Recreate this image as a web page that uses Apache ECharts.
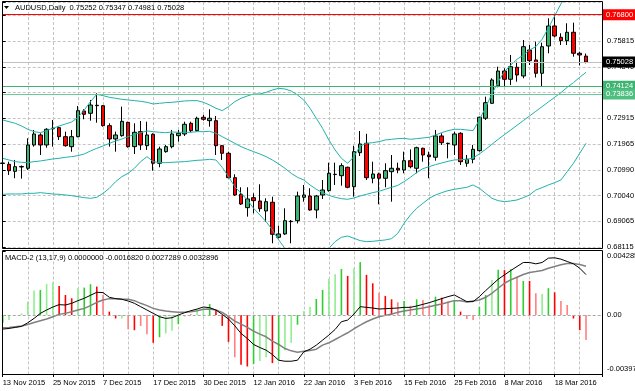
<!DOCTYPE html>
<html><head><meta charset="utf-8">
<script src="https://cdn.jsdelivr.net/npm/echarts@6/dist/echarts.min.js"></script>
<style>html,body{margin:0;padding:0;background:#fff}#c{width:635px;height:391px}</style>
</head><body><div id="c"></div>
<script>
const symbol = 'AUDUSD,Daily';
const dateLabels = ['13 Nov 2015','25 Nov 2015','7 Dec 2015','17 Dec 2015','30 Dec 2015','12 Jan 2016','22 Jan 2016','3 Feb 2016','15 Feb 2016','25 Feb 2016','8 Mar 2016','18 Mar 2016'];
const priceTicks = ['0.68115','0.69065','0.70040','0.70990','0.71965','0.72915','0.73865','0.74840','0.75815'];
const macdTickValues = [0.004285, 0, -0.003976];
const macdTickLabels = ['0.004285', '0.00', '-0.003976'];
const levelValues = [0.76800, 0.75028, 0.74124, 0.73836];

const opens = [0.71256,0.71207,0.70945,0.71106,0.71058,0.71929,0.72303,0.71929,0.72539,0.72577,
0.72240,0.71866,0.72240,0.73200,0.73114,0.73413,0.73398,0.72651,0.72154,0.72277,
0.72775,0.71866,0.72427,0.71903,0.72329,0.71245,0.71679,0.71866,0.72277,0.72340,
0.72740,0.72464,0.72965,0.72838,0.72838,0.71903,0.71619,0.70706,0.70086,0.69586,
0.69959,0.69835,0.69461,0.69787,0.68479,0.68602,0.69062,0.69099,0.69974,0.70022,
0.69499,0.70060,0.70221,0.70834,0.70781,0.71095,0.70370,0.71641,0.71992,0.70684,
0.70845,0.70684,0.70931,0.71058,0.70994,0.71342,0.71058,0.71806,0.71555,0.71469,
0.72266,0.71992,0.71929,0.72366,0.71245,0.71394,0.71716,0.72928,0.73488,0.74134,
0.74695,0.74385,0.74834,0.74508,0.75480,0.75107,0.74610,0.75630,0.76378,0.75955,
0.75828,0.76142,0.75357,0.75252];
const highs = [0.71555,0.71304,0.71368,0.71162,0.72180,0.72490,0.72366,0.72554,0.72864,0.72614,
0.72427,0.72490,0.73387,0.73263,0.73611,0.73862,0.73424,0.72740,0.72427,0.73361,
0.72799,0.72740,0.72826,0.72799,0.72366,0.71866,0.71929,0.72490,0.72490,0.72799,
0.72799,0.72987,0.73050,0.73263,0.73013,0.71929,0.71679,0.70834,0.70348,0.70348,
0.70122,0.70460,0.69936,0.69996,0.68912,0.69562,0.69125,0.70183,0.70433,0.70311,
0.70060,0.70620,0.71267,0.71267,0.71245,0.71117,0.71903,0.72452,0.72348,0.71304,
0.70895,0.71245,0.71555,0.71267,0.71679,0.71764,0.71866,0.71828,0.71679,0.72490,
0.72366,0.72015,0.72427,0.72404,0.71555,0.71929,0.72987,0.73735,0.74422,0.74856,
0.74796,0.75293,0.75043,0.75854,0.75667,0.75791,0.75753,0.76666,0.76800,0.76105,
0.76479,0.76501,0.75417,0.75347];
const lows = [0.71031,0.70807,0.70684,0.70669,0.70994,0.71866,0.71555,0.71828,0.71866,0.72116,
0.71866,0.71679,0.72217,0.72890,0.72838,0.72763,0.72614,0.71866,0.71679,0.72240,
0.71828,0.71593,0.71742,0.71742,0.70968,0.71095,0.71641,0.71803,0.72053,0.72266,
0.72404,0.72427,0.72838,0.72614,0.71555,0.71368,0.70684,0.70022,0.69686,0.69249,
0.69372,0.69436,0.69062,0.68254,0.68441,0.68564,0.68254,0.68997,0.69809,0.69473,
0.69189,0.69911,0.70183,0.70433,0.70407,0.70311,0.69996,0.71517,0.70620,0.70497,
0.69711,0.70348,0.69809,0.70871,0.70871,0.71058,0.70871,0.71304,0.70684,0.71342,
0.71929,0.71430,0.71555,0.71181,0.71117,0.71245,0.71679,0.72864,0.73462,0.74086,
0.74134,0.74172,0.74295,0.74422,0.74920,0.74452,0.74134,0.75357,0.75955,0.75667,
0.75667,0.75230,0.74904,0.74981];
const closes = [0.71237,0.70968,0.71117,0.71125,0.71929,0.72340,0.71929,0.72516,0.72554,0.72240,
0.71903,0.72240,0.73211,0.73076,0.73424,0.73398,0.72651,0.72154,0.72303,0.72812,
0.71866,0.72404,0.71929,0.72303,0.71245,0.71779,0.71866,0.72340,0.72366,0.72703,
0.72464,0.72928,0.72890,0.72928,0.71903,0.71619,0.70706,0.70060,0.69723,0.69911,
0.69847,0.69548,0.69809,0.68591,0.68602,0.69099,0.69077,0.70022,0.70060,0.69499,
0.70022,0.70247,0.70871,0.70823,0.71155,0.70348,0.71679,0.71967,0.70706,0.70845,
0.70684,0.70968,0.71058,0.70994,0.71342,0.71117,0.71828,0.71555,0.71492,0.72266,
0.72015,0.71981,0.72340,0.71304,0.71394,0.71768,0.72965,0.73510,0.74359,0.74695,
0.74385,0.74856,0.74546,0.75604,0.75081,0.74610,0.75604,0.76378,0.76004,0.75828,
0.76142,0.75357,0.75293,0.75028];

const bbUpper = [0.72864,0.72801,0.72739,0.72639,0.72515,0.72427,0.72390,0.72465,0.72552,0.72639,
0.72714,0.72789,0.72963,0.73237,0.73549,0.73823,0.73773,0.73711,0.73674,0.73636,
0.73611,0.73586,0.73561,0.73524,0.73462,0.73487,0.73512,0.73524,0.73549,0.73574,
0.73586,0.73586,0.73524,0.73424,0.73300,0.73213,0.73362,0.73549,0.73674,0.73761,
0.73836,0.73836,0.73898,0.73985,0.74047,0.74022,0.73948,0.73798,0.73611,0.73300,
0.72926,0.72552,0.72116,0.71742,0.71430,0.71244,0.71493,0.71892,0.71991,0.72016,
0.72054,0.72116,0.72141,0.72166,0.72178,0.72141,0.72166,0.72191,0.72216,0.72303,
0.72390,0.72465,0.72515,0.72515,0.72490,0.72465,0.72864,0.73337,0.73836,0.74297,
0.74670,0.74920,0.75131,0.75293,0.75480,0.75605,0.75879,0.76303,0.76751,0.77200,
0.77600,0.77700,0.77750,0.77800];
const bbMiddle = [0.71431,0.71368,0.71306,0.71281,0.71269,0.71306,0.71331,0.71368,0.71406,0.71431,
0.71468,0.71493,0.71530,0.71593,0.71705,0.71804,0.71892,0.71991,0.72079,0.72153,
0.72241,0.72328,0.72390,0.72452,0.72427,0.72403,0.72390,0.72415,0.72403,0.72403,
0.72403,0.72427,0.72427,0.72440,0.72365,0.72241,0.72116,0.71991,0.71867,0.71767,
0.71680,0.71593,0.71493,0.71368,0.71219,0.71057,0.70870,0.70720,0.70621,0.70434,
0.70272,0.70147,0.70047,0.69973,0.69923,0.69898,0.69948,0.70022,0.70085,0.70147,
0.70197,0.70272,0.70346,0.70421,0.70558,0.70720,0.70895,0.71044,0.71119,0.71194,
0.71256,0.71318,0.71368,0.71381,0.71393,0.71443,0.71593,0.71767,0.71954,0.72141,
0.72315,0.72490,0.72664,0.72839,0.73013,0.73188,0.73362,0.73536,0.73711,0.73885,
0.74085,0.74259,0.74459,0.74646];
const bbLower = [0.70085,0.70097,0.70097,0.70097,0.70122,0.70122,0.70147,0.70122,0.70097,0.70085,
0.70060,0.70035,0.69998,0.69960,0.69935,0.69973,0.70122,0.70309,0.70558,0.70745,
0.70870,0.71057,0.71306,0.71493,0.71306,0.71269,0.71269,0.71281,0.71294,0.71306,
0.71331,0.71356,0.71368,0.71393,0.71368,0.71094,0.70745,0.70371,0.70122,0.69873,
0.69561,0.69312,0.69063,0.68752,0.68378,0.68066,0.67966,0.67854,0.67755,0.67692,
0.67692,0.67817,0.68066,0.68315,0.68477,0.68527,0.68440,0.68353,0.68315,0.68328,
0.68353,0.68378,0.68427,0.68627,0.69001,0.69312,0.69561,0.69748,0.69935,0.70060,
0.70147,0.70222,0.70272,0.70309,0.70346,0.70434,0.70309,0.70122,0.69935,0.69848,
0.69811,0.69836,0.69873,0.69960,0.70060,0.70247,0.70334,0.70434,0.70521,0.70621,
0.70932,0.71244,0.71617,0.71991];

const macdHist = [-0.00052,-0.00034,-0.00005,0.00011,0.00090,0.00165,0.00169,0.00210,0.00221,0.00196,
0.00135,0.00113,0.00181,0.00185,0.00208,0.00192,0.00135,0.00023,-0.00023,-0.00023,
-0.00095,-0.00102,-0.00074,-0.00130,-0.00187,-0.00150,-0.00124,-0.00106,-0.00061,-0.00011,
0.00007,0.00038,0.00045,0.00074,0.00034,-0.00073,-0.00181,-0.00285,-0.00335,-0.00347,
-0.00330,-0.00310,-0.00285,-0.00324,-0.00305,-0.00237,-0.00188,-0.00065,0.00027,0.00056,
0.00108,0.00169,0.00244,0.00275,0.00311,0.00264,0.00316,0.00357,0.00271,0.00214,
0.00151,0.00129,0.00106,0.00086,0.00095,0.00063,0.00106,0.00102,0.00068,0.00124,
0.00117,0.00090,0.00102,0.00023,-0.00027,-0.00034,0.00056,0.00135,0.00237,0.00305,
0.00303,0.00309,0.00260,0.00230,0.00230,0.00147,0.00142,0.00181,0.00153,0.00095,
0.00068,-0.00023,-0.00102,-0.0016820];
const histShade = ['G','g','g','g','g','g','G','g','g','R',
'R','R','g','G','G','R','r','R','R','g',
'r','R','r','r','R','G','g','g','G','g',
'r','g','g','G','R','R','R','r','R','R',
'G','g','g','R','G','g','g','G','g','g',
'G','G','g','g','G','R','g','G','R','R',
'r','R','R','r','G','r','G','r','r','G',
'R','r','G','R','r','r','G','G','g','G',
'R','G','r','G','R','r','g','G','R','r',
'r','R','R','r'];
const macdMain = [-0.000948,-0.000903,-0.000835,-0.000767,-0.000519,-0.000226,0.000113,0.000339,0.000542,0.000700,
0.000677,0.000790,0.000971,0.001129,0.001332,0.001535,0.001512,0.001196,0.001106,0.001061,
0.000948,0.000790,0.000564,0.000339,0.000113,-0.000113,-0.000226,-0.000181,0.000000,0.000158,
0.000293,0.000406,0.000542,0.000497,0.000339,0.000045,-0.000271,-0.000722,-0.001241,-0.001580,
-0.001986,-0.002189,-0.002370,-0.002663,-0.003047,-0.003115,-0.003115,-0.003047,-0.002483,-0.002302,
-0.002031,-0.001693,-0.001354,-0.000971,-0.000451,-0.000339,0.000068,0.000564,0.000519,0.000474,
0.000406,0.000429,0.000451,0.000474,0.000519,0.000519,0.000609,0.000722,0.000835,0.000971,
0.001106,0.001241,0.001354,0.001129,0.000903,0.000903,0.001241,0.001648,0.002031,0.002415,
0.002708,0.003002,0.003273,0.003543,0.003543,0.003453,0.003543,0.003837,0.003859,0.003769,
0.003611,0.003453,0.003160,0.0027289];
const macdSignal = [-0.000858,-0.000835,-0.000790,-0.000745,-0.000632,-0.000497,-0.000384,-0.000271,-0.000113,0.000045,
0.000113,0.000226,0.000339,0.000451,0.000632,0.000858,0.001016,0.001106,0.001106,0.001083,
0.001061,0.000971,0.000790,0.000632,0.000451,0.000339,0.000271,0.000226,0.000181,0.000181,
0.000226,0.000293,0.000384,0.000406,0.000339,0.000181,-0.000113,-0.000406,-0.000609,-0.000835,
-0.001083,-0.001286,-0.001467,-0.001760,-0.001986,-0.002257,-0.002415,-0.002505,-0.002438,-0.002392,
-0.002302,-0.002031,-0.001873,-0.001648,-0.001422,-0.001196,-0.000925,-0.000677,-0.000451,-0.000271,
-0.000113,-0.000023,0.000068,0.000181,0.000271,0.000339,0.000406,0.000474,0.000564,0.000655,
0.000745,0.000858,0.000971,0.000971,0.000880,0.000948,0.001016,0.001196,0.001467,0.001806,
0.002144,0.002370,0.002550,0.002731,0.002866,0.002930,0.003002,0.003160,0.003273,0.003386,
0.003476,0.003476,0.003408,0.0032896];

// ---------- presentation ----------
const FONT = 'Liberation Sans, Arial, sans-serif';
const FS = 7.5;
const X_MAX = 95.55;
const P_MIN = 0.68115, P_STEP = 0.009625, P_MAX = 0.77274;
const M_MIN = -0.003976, M_MAX = 0.004285;
const shadeColor = {G:'#32cd32', g:'#90ee90', R:'#ff0000', r:'#ff8080'};
const levelLine = ['#ff0000', '#c0c0c0', '#3cb371', '#66cc99'];
const levelBox = ['#ff0000', '#000000', '#3cb371', '#4fbf80'];
const gridLine = {show:true, lineStyle:{color:'#c4c4c4', type:[3,2], width:1}};

const N = opens.length;
const last = N - 1;
const candleData = opens.map((o,i)=>[i, o, closes[i], lows[i], highs[i]]);
const pts = arr => arr.map((v,i)=>[i, v]);

const chart = echarts.init(document.getElementById('c'), null, {renderer:'canvas', width:635, height:391});
const mainTitle = symbol + '  ' + [opens[last], highs[last], lows[last], closes[last]].map(v=>v.toFixed(5)).join(' ');
const macdTitle = 'MACD-2 (13,17,9) ' + [0, macdHist[last], macdMain[last], macdSignal[last]].map(v=>v.toFixed(7)).join(' ');

chart.setOption({
  animation: false,
  backgroundColor: '#ffffff',
  textStyle: {fontFamily: FONT},
  title: [
    {text: mainTitle, left: 15, top: 3.5, padding: 0, textStyle: {fontSize: FS, fontWeight: 'normal', color: '#000', fontFamily: FONT}},
    {text: macdTitle, left: 5, top: 254, padding: 0, textStyle: {fontSize: FS, fontWeight: 'normal', color: '#000', fontFamily: FONT}}
  ],
  grid: [
    {left: 2.7, right: 33, top: 2, height: 245, outerBoundsMode: 'none'},
    {left: 2.7, right: 33, top: 251.5, height: 122.5, outerBoundsMode: 'none'}
  ],
  xAxis: [
    {type:'value', gridIndex:0, min:0, max:X_MAX, interval:4, axisLine:{show:false}, axisTick:{show:false}, axisLabel:{show:false}, splitLine:gridLine},
    {type:'value', gridIndex:1, position:'top', min:0, max:X_MAX, interval:4, axisLine:{show:false}, axisTick:{show:false}, axisLabel:{show:false}, splitLine:gridLine},
    {type:'value', gridIndex:1, position:'bottom', min:0, max:X_MAX, interval:8,
      axisLine:{show:false}, splitLine:{show:false},
      axisTick:{show:true, length:3, lineStyle:{color:'#000'}},
      axisLabel:{show:true, align:'left', margin:5, fontSize:FS, color:'#000', fontFamily:FONT,
        formatter: v => (Math.abs(v % 8) < 1e-9 && dateLabels[Math.round(v/8)]) ? dateLabels[Math.round(v/8)] : ''}}
  ],
  yAxis: [
    {type:'value', gridIndex:0, position:'right', min:P_MIN, max:P_MAX, interval:P_STEP,
      axisLine:{show:false}, splitLine:gridLine,
      axisTick:{show:true, length:3, lineStyle:{color:'#000'}},
      axisLabel:{show:true, margin:5, fontSize:FS, color:'#000', fontFamily:FONT,
        formatter: v => { const k = Math.round((v - P_MIN)/P_STEP); return (Math.abs(v - (P_MIN + k*P_STEP)) < 1e-7 && priceTicks[k]) ? priceTicks[k] : ''; }}},
    {type:'value', gridIndex:1, position:'right', min:M_MIN, max:M_MAX,
      axisLine:{show:false}, splitLine:{show:false},
      axisTick:{show:true, length:3, customValues: macdTickValues, lineStyle:{color:'#000'}},
      axisLabel:{show:true, margin:5, customValues: macdTickValues, fontSize:FS, color:'#000', fontFamily:FONT,
        formatter: v => {
          const k = macdTickValues.findIndex(t => Math.abs(t - v) < 1e-9);
          if (k < 0) return '';
          return k === 0 ? '{t|' + macdTickLabels[k] + '}' : (k === 2 ? '{b|' + macdTickLabels[k] + '}' : macdTickLabels[k]);
        },
        rich: {
          t: {fontSize: FS, color:'#000', fontFamily: FONT, padding:[9,0,0,0]},
          b: {fontSize: FS, color:'#000', fontFamily: FONT, padding:[0,0,11,0]}
        }}}
  ],
  series: [
    {type:'candlestick', xAxisIndex:0, yAxisIndex:0, data: candleData, encode:{x:0, y:[1,2,3,4]},
      barWidth: 4, clip: true, z: 3,
      itemStyle:{color:'#3cb371', color0:'#ff0000', borderColor:'#000', borderColor0:'#000', borderWidth:1},
      markLine:{symbol:'none', silent:true, animation:false, precision:5,
        label:{show:true, position:'end', distance:1, color:'#fff', fontSize:FS, fontFamily:FONT, padding:[2,4,1,3], formatter: p => p.value.toFixed(5)},
        data: levelValues.map((v,k)=>({yAxis:v, lineStyle:{color:levelLine[k], width:1, type:'solid'}, label:{backgroundColor:levelBox[k]}}))}},
    {type:'line', xAxisIndex:0, yAxisIndex:0, data: pts(bbUpper), showSymbol:false, clip:true, z:4, lineStyle:{color:'#20b2aa', width:1}},
    {type:'line', xAxisIndex:0, yAxisIndex:0, data: pts(bbMiddle), showSymbol:false, clip:true, z:4, lineStyle:{color:'#20b2aa', width:1}},
    {type:'line', xAxisIndex:0, yAxisIndex:0, data: pts(bbLower), showSymbol:false, clip:true, z:4, lineStyle:{color:'#20b2aa', width:1}},
    {type:'bar', xAxisIndex:1, yAxisIndex:1, barWidth:1.6,
      data: macdHist.map((v,i)=>({value:[i, v], itemStyle:{color: shadeColor[histShade[i]]}})),
      markLine:{symbol:'none', silent:true, animation:false, label:{show:false},
        data:[{yAxis:0, lineStyle:{color:'#a8a8a8', type:[3,2], width:1}}]}},
    {type:'line', xAxisIndex:1, yAxisIndex:1, data: pts(macdSignal), showSymbol:false, z:4, lineStyle:{color:'#808080', width:1.5}},
    {type:'line', xAxisIndex:1, yAxisIndex:1, data: pts(macdMain), showSymbol:false, z:5, lineStyle:{color:'#000000', width:1}}
  ],
  graphic: [
    {type:'rect', silent:true, z:100, shape:{x:2.5, y:1.5, width:600, height:247}, style:{fill:'none', stroke:'#000', lineWidth:1}},
    {type:'rect', silent:true, z:100, shape:{x:2.5, y:250.5, width:600, height:124}, style:{fill:'none', stroke:'#000', lineWidth:1}},
    {type:'polygon', silent:true, z:100, shape:{points:[[4,6],[9,6],[6.5,9]]}, style:{fill:'#000'}}
  ]
});
</script>
</body></html>
